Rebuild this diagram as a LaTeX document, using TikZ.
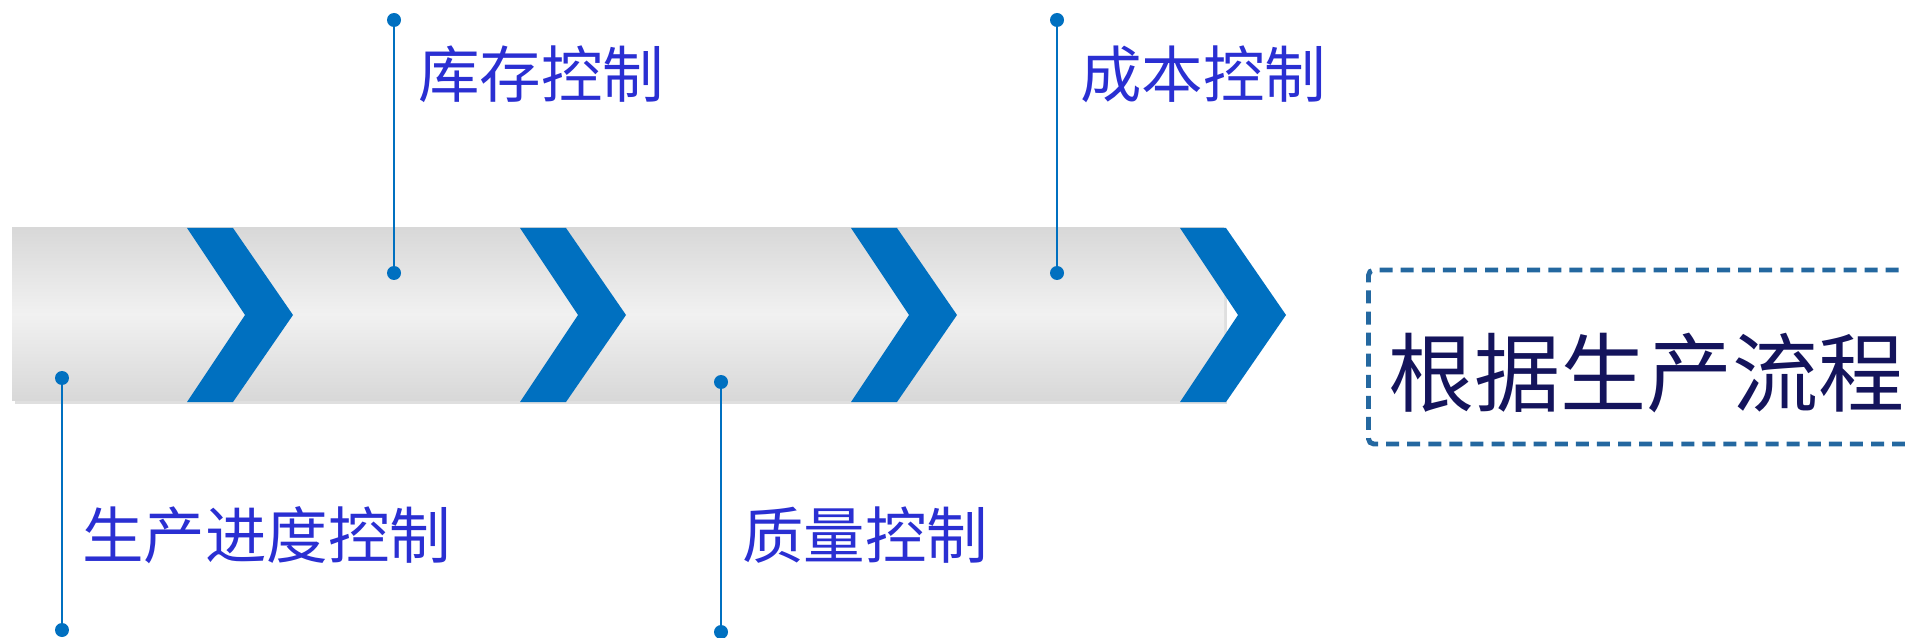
\documentclass[tikz,border=0pt]{standalone}
\usepackage{fontspec}
\newfontfamily\cjk{Noto Sans CJK SC}
\usetikzlibrary{positioning, shadows}
\definecolor{chevblue}{HTML}{0070C0}
\definecolor{labelblue}{HTML}{2A2FD2}
\definecolor{titlenavy}{HTML}{14145C}
\definecolor{dashblue}{HTML}{2468A0}
\definecolor{barlight}{HTML}{F1F1F1}
\definecolor{bardark}{HTML}{D8D8D8}

\begin{document}
\begin{tikzpicture}[
    x=0.02cm, y=-0.02cm,
    bar/.style={top color=bardark, bottom color=bardark, middle color=barlight,
                drop shadow={shadow xshift=1.5pt, shadow yshift=-2.5pt, opacity=0.25, fill=gray}},
    chevron/.style={fill=chevblue},
    dot/.style={circle, fill=chevblue, inner sep=0pt, minimum size=0.28cm},
    stem/.style={draw=chevblue, line width=1.1pt},
    steplabel/.style={font=\cjk\fontsize{35}{35}\selectfont, text=labelblue, inner sep=0pt, anchor=west},
    titlebox/.style={draw=dashblue, line width=2.8pt, dash pattern=on 7.4pt off 4.6pt,
                     rounded corners=3pt, font=\cjk\fontsize{49}{49}\selectfont, text=titlenavy,
                     inner xsep=0.4cm, inner ysep=0pt, minimum height=3.48cm,
                     text height=55pt, text depth=0pt, anchor=west}
 ]
\useasboundingbox (0,0) rectangle (1905,638);

% the grey bar
\path[bar] (12,228) rectangle (1224,400);

% chevrons
\fill[chevron] (187,228) -- (233,228) -- (293,315) -- (233,402) -- (187,402) -- (245,315) -- cycle;
\fill[chevron] (520,228) -- (566,228) -- (626,315) -- (566,402) -- (520,402) -- (578,315) -- cycle;
\fill[chevron] (851,228) -- (897,228) -- (957,315) -- (897,402) -- (851,402) -- (909,315) -- cycle;
\fill[chevron] (1180,228) -- (1226,228) -- (1286,315) -- (1226,402) -- (1180,402) -- (1238,315) -- cycle;

% markers on the bar and their ends
\node[dot] (Progress) at (62,378) {};
\node[dot] (ProgressEnd) at (62,630) {};
\draw[stem] (Progress) -- (ProgressEnd);
\node[steplabel] (ProgressText) at (82,535) {生产进度控制};

\node[dot] (Stock) at (394,273) {};
\node[dot] (StockEnd) at (394,20) {};
\draw[stem] (Stock) -- (StockEnd);
\node[steplabel] (StockText) at (418,74) {库存控制};

\node[dot] (Quality) at (721,382) {};
\node[dot] (QualityEnd) at (721,632) {};
\draw[stem] (Quality) -- (QualityEnd);
\node[steplabel] (QualityText) at (742,535) {质量控制};

\node[dot] (Cost) at (1057,273) {};
\node[dot] (CostEnd) at (1057,20) {};
\draw[stem] (Cost) -- (CostEnd);
\node[steplabel] (CostText) at (1080,74) {成本控制};

% title box
\node[titlebox] (Flow) at (1366,357) {根据生产流程};

\end{tikzpicture}
\end{document}
